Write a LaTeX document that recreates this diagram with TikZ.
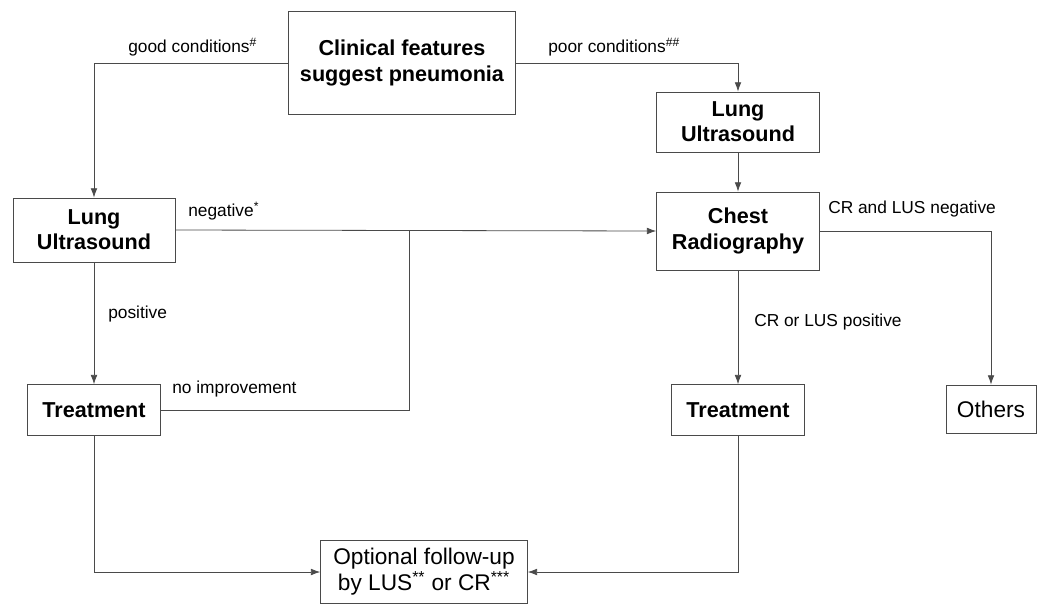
\documentclass[tikz,border=0pt]{standalone}
\usepackage{fontspec}
\setmainfont{Liberation Sans}
\usetikzlibrary{positioning,arrows.meta}
\definecolor{linegray}{HTML}{4A4A4A}

\begin{document}
\begin{tikzpicture}[x=0.75pt,y=-0.75pt,
item/.style={rectangle,draw=linegray,align=center,inner sep=2pt,line width=0.6pt,
 font=\fontsize{16.2}{19}\selectfont\bfseries},
itemn/.style={item,font=\fontsize{17}{19.5}\selectfont},
lbl/.style={font=\fontsize{13}{15}\selectfont,inner sep=0pt},
conn/.style={-{Latex[length=7pt,width=5pt]},draw=linegray,line width=0.6pt}]
 \useasboundingbox (0,0) rectangle (1047,607);

 \node[item,minimum width=170pt,minimum height=77pt] (clin) at (402,63)
 {Clinical features\\suggest pneumonia};
 \node[item,minimum width=122pt,minimum height=45pt] (lusR) at (738,122)
 {Lung\\Ultrasound};
 \node[item,minimum width=122pt,minimum height=58.5pt] (chest) at (738,231)
 {Chest\\Radiography};
 \node[item,minimum width=121.5pt,minimum height=48pt] (lusL) at (94,230)
 {Lung\\Ultrasound};
 \node[item,minimum width=100pt,minimum height=38pt] (treatL) at (94,410)
 {Treatment};
 \node[item,minimum width=100pt,minimum height=38pt] (treatR) at (738,410)
 {Treatment};
 \node[itemn,minimum width=67.5pt,minimum height=36pt] (other) at (991,409)
 {Others};
 \node[itemn,minimum width=155pt,minimum height=47pt] (follow) at (424,572)
 {Optional follow-up\\by LUS\textsuperscript{**} or CR\textsuperscript{***}};

 \coordinate (join) at (409,231);

 \draw[conn] (clin.west) -| (lusL.north);
 \draw[conn] (clin.east) -| (lusR.north);
 \draw[conn] (lusR) -- (chest);
 \draw[conn] (lusL.east) -- (chest.west);
 \draw[conn] (lusL) -- (treatL);
 \draw[draw=linegray,line width=0.6pt] (treatL.east) -| (join);
 \draw[conn] (chest.east) -| (other.north);
 \draw[conn] (chest) -- (treatR);
 \draw[conn] (treatL.south) |- (follow.west);
 \draw[conn] (treatR.south) |- (follow.east);

 \node[lbl,anchor=base west] (l1) at (128,52) {good conditions\textsuperscript{\#}};
 \node[lbl,anchor=base west] (l2) at (548,52) {poor conditions\textsuperscript{\#\#}};
 \node[lbl,anchor=base west] (l3) at (188,216) {negative\textsuperscript{*}};
 \node[lbl,anchor=base west] (l4) at (108,318) {positive};
 \node[lbl,anchor=base west] (l5) at (172,393) {no improvement};
 \node[lbl,anchor=base west] (l6) at (828,213) {CR and LUS negative};
 \node[lbl,anchor=base west] (l7) at (754,326) {CR or LUS positive};
\end{tikzpicture}
\end{document}
